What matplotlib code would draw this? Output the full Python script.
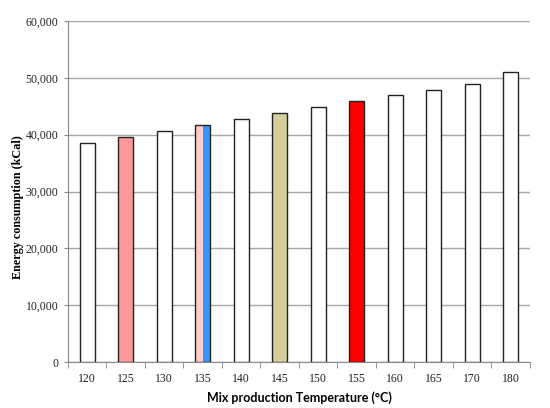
import matplotlib.pyplot as plt
from matplotlib.ticker import FuncFormatter

temps = ['120', '125', '130', '135', '140', '145', '150', '155', '160', '165', '170', '180']
energy = [38600, 39650, 40700, 41750, 42800, 43800, 44800, 45850, 46900, 47900, 48900, 51000]
colors = ['white', '#FF9999', 'white', None, 'white', '#D6CE9A', 'white', '#FF0000',
          'white', 'white', 'white', 'white']
split_colors = ['#FFCCCC', '#3399FF']   # 135 bar, two halves

fig = plt.figure(figsize=(5.5, 4.08), dpi=100)
ax = fig.add_axes([0.1236, 0.1127, 0.84, 0.8358])

w = 0.4
for i, (v, c) in enumerate(zip(energy, colors)):
    if c is None:
        ax.bar(i - w / 4, v, w / 2, color=split_colors[0], edgecolor='none', zorder=3)
        ax.bar(i + w / 4, v, w / 2, color=split_colors[1], edgecolor='none', zorder=3)
        ax.bar(i, v, w, color='none', edgecolor='#222222', linewidth=1, zorder=4)
    else:
        ax.bar(i, v, w, color=c, edgecolor='#222222', linewidth=1, zorder=3)

ax.set_xlim(-0.5, len(temps) - 0.5)
ax.set_ylim(0, 60000)
ax.set_yticks(range(0, 60001, 10000))
ax.yaxis.set_major_formatter(FuncFormatter(lambda v, p: f'{int(v):,}'))
ax.yaxis.grid(True, color='#A6A6A6', linewidth=1, zorder=0)

ax.set_xticks(range(len(temps)))
ax.set_xticklabels(temps)
ax.set_xticks([i + 0.5 for i in range(-1, len(temps))], minor=True)
ax.tick_params(axis='x', which='major', length=0, pad=8)
ax.tick_params(axis='x', which='minor', length=4, color='#888888')
ax.tick_params(axis='y', length=3, color='#888888', pad=4)

for lab in ax.get_xticklabels() + ax.get_yticklabels():
    lab.set_family('Liberation Serif')
    lab.set_fontsize(8.5)
    lab.set_color('#222222')

for s in ['top', 'right']:
    ax.spines[s].set_visible(False)
for s in ['left', 'bottom']:
    ax.spines[s].set_color('#888888')

ax.set_ylabel('Energy consumption (kCal)', family='Liberation Serif', fontweight='bold',
              fontsize=8.7)
ax.yaxis.set_label_coords(-0.095, 0.455)
ax.set_xlabel('Mix production Temperature (°C)', family='Lato', fontweight='bold',
              fontsize=9)
ax.xaxis.set_label_coords(0.5, -0.085)

fig.savefig('out.png', dpi=100)
